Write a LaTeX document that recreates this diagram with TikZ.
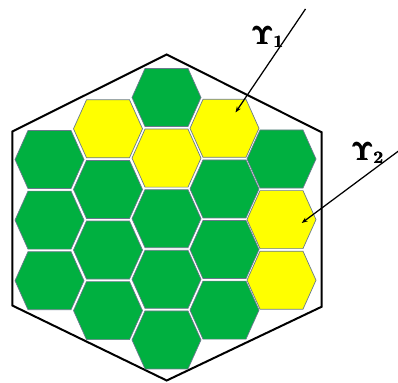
\documentclass[tikz,border=0pt]{standalone}
\usepackage{amsmath}
\usetikzlibrary{arrows.meta}
\definecolor{cellgreen}{RGB}{0,176,64}
\definecolor{cellyellow}{RGB}{255,255,0}
\definecolor{hexedge}{RGB}{105,122,140}
\tikzset{
  hexcell/.style={draw=hexedge, line width=0.7pt},
  outerhex/.style={draw=black, line width=2pt, line join=miter},
  ray/.style={draw=black, line width=1.25pt, -{Stealth[length=6pt,width=4.5pt]}},
  raylabel/.style={font=\fontsize{24}{26}\selectfont, inner sep=0pt}
}
\newcommand\hexcellat[3]{%
  \coordinate (#1) at #2;
  \path[hexcell, fill=#3, shift={(#1)}] (-34.5,0) -- (-21.5,-29) -- (21.5,-29) -- (34.5,0) -- (21.5,29) -- (-21.5,29) -- cycle;
}
\newcommand\rayname[1]{$\pmb{\mathbf{\Upsilon}}_{\pmb{\mathbf{#1}}}$}
\begin{document}
\begin{tikzpicture}[x=1pt,y=-1pt]
\useasboundingbox (0,0) rectangle (398,382);
% outer hexagon
\coordinate (ot) at (166.7,54.5);
\coordinate (or1) at (321.7,132.3);
\coordinate (or2) at (321.7,306.7);
\coordinate (ob) at (166.7,380.5);
\coordinate (ol2) at (12.3,305.5);
\coordinate (ol1) at (12.3,131.5);
\draw[outerhex] (ot) -- (or1) -- (or2) -- (ob) -- (ol2) -- (ol1) -- cycle;
% column 1
\hexcellat{a1}{(49.5,159.5)}{cellgreen}
\hexcellat{a2}{(49.5,220.1)}{cellgreen}
\hexcellat{a3}{(49.5,280.7)}{cellgreen}
% column 2
\hexcellat{b1}{(108,128.8)}{cellyellow}
\hexcellat{b2}{(108,189.4)}{cellgreen}
\hexcellat{b3}{(108,250)}{cellgreen}
\hexcellat{b4}{(108,310.6)}{cellgreen}
% column 3
\hexcellat{c1}{(166.5,97.5)}{cellgreen}
\hexcellat{c2}{(166.5,158.1)}{cellyellow}
\hexcellat{c3}{(166.5,218.7)}{cellgreen}
\hexcellat{c4}{(166.5,279.3)}{cellgreen}
\hexcellat{c5}{(166.5,339.9)}{cellgreen}
% column 4
\hexcellat{d1}{(224.5,128.3)}{cellyellow}
\hexcellat{d2}{(224.5,188.9)}{cellgreen}
\hexcellat{d3}{(224.5,249.5)}{cellgreen}
\hexcellat{d4}{(224.5,310.1)}{cellgreen}
% column 5
\hexcellat{e1}{(281.5,159)}{cellgreen}
\hexcellat{e2}{(281.5,219.6)}{cellyellow}
\hexcellat{e3}{(281.5,280.2)}{cellyellow}
% rays
\coordinate (r1s) at (305.5,9);
\coordinate (r1e) at (235.5,112.5);
\draw[ray] (r1s) -- (r1e);
\node[raylabel] (y1) at (268,37) {\rayname{1}};
\coordinate (r2s) at (398.5,151);
\coordinate (r2e) at (301.7,223);
\draw[ray] (r2s) -- (r2e);
\node[raylabel] (y2) at (368,153) {\rayname{2}};
\end{tikzpicture}
\end{document}
